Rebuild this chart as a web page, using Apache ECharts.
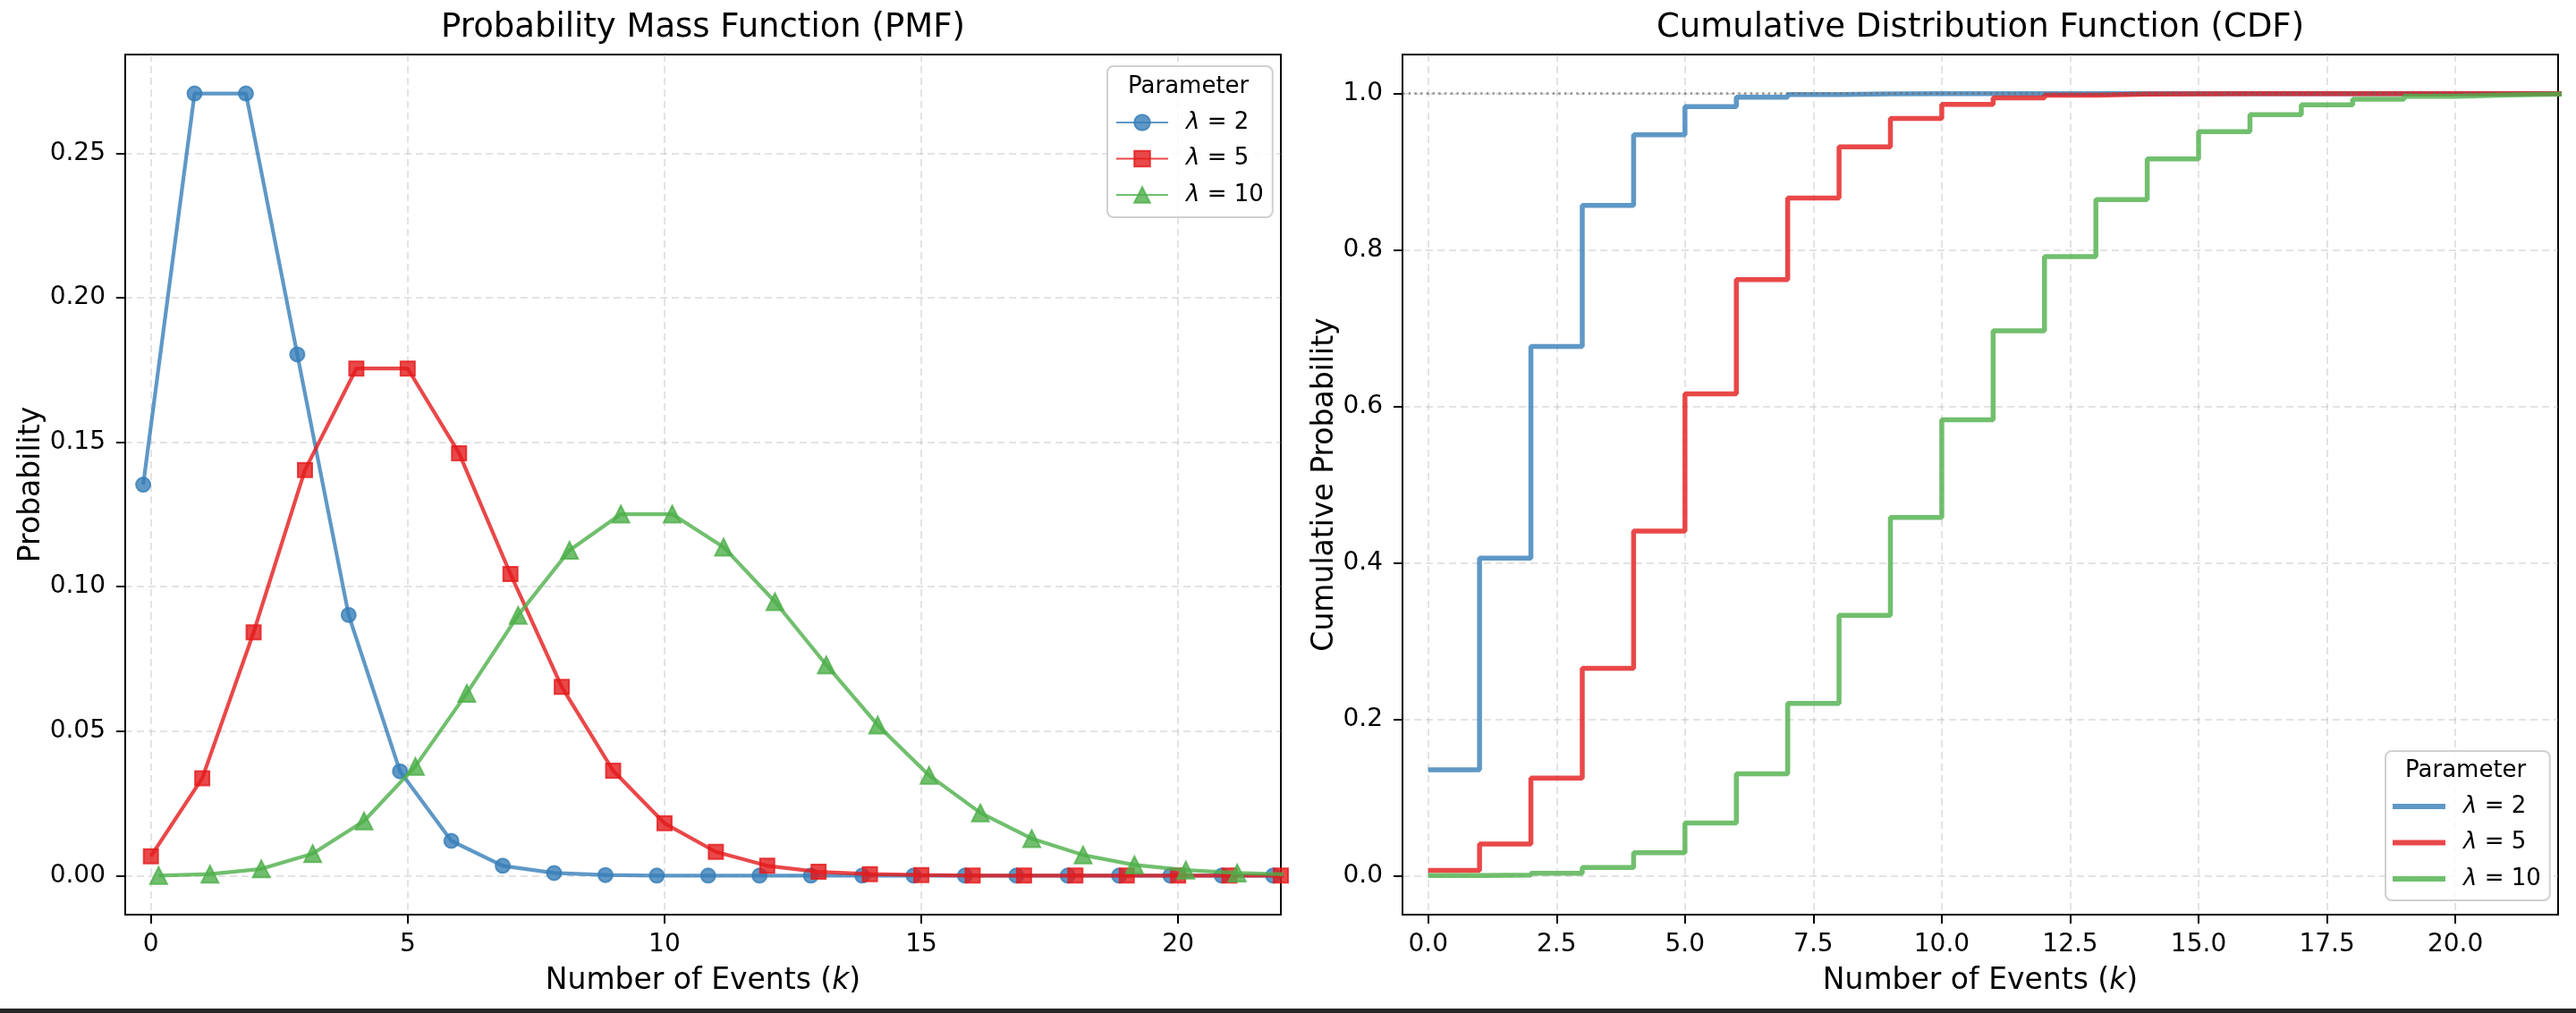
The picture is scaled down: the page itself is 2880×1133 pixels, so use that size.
<!DOCTYPE html>
<html>
<head>
<meta charset="utf-8">
<script src="https://cdn.jsdelivr.net/npm/echarts@6/dist/echarts.min.js"></script>
<style>
html,body{margin:0;padding:0;background:#fff;}
#c{width:2880px;height:1133px;}
</style>
</head>
<body>
<div id="c"></div>
<script>
// ---------- data ----------
const kValues = [0,1,2,3,4,5,6,7,8,9,10,11,12,13,14,15,16,17,18,19,20,21,22,23,24,25];
const lambdaLabels = ['2', '5', '10'];
const pmfLambda2 = [0.1353,0.2707,0.2707,0.1804,0.0902,0.0361,0.0120,0.0034,0.0009,0.0002,0.0000,0.0000,0.0000,0.0000,0.0000,0.0000,0.0000,0.0000,0.0000,0.0000,0.0000,0.0000,0.0000,0.0000,0.0000,0.0000];
const pmfLambda5 = [0.0067,0.0337,0.0842,0.1404,0.1755,0.1755,0.1462,0.1044,0.0653,0.0363,0.0181,0.0082,0.0034,0.0013,0.0005,0.0002,0.0000,0.0000,0.0000,0.0000,0.0000,0.0000,0.0000,0.0000,0.0000,0.0000];
const pmfLambda10 = [0.0000,0.0005,0.0023,0.0076,0.0189,0.0378,0.0631,0.0901,0.1126,0.1251,0.1251,0.1137,0.0948,0.0729,0.0521,0.0347,0.0217,0.0128,0.0071,0.0037,0.0019,0.0009,0.0004,0.0002,0.0001,0.0000];
const cdfLambda2 = [0.1353,0.4060,0.6767,0.8571,0.9473,0.9834,0.9955,0.9989,0.9998,1.0000,1.0000,1.0000,1.0000,1.0000,1.0000,1.0000,1.0000,1.0000,1.0000,1.0000,1.0000,1.0000,1.0000,1.0000,1.0000,1.0000];
const cdfLambda5 = [0.0067,0.0404,0.1247,0.2650,0.4405,0.6160,0.7622,0.8666,0.9319,0.9682,0.9863,0.9945,0.9980,0.9993,0.9998,0.9999,1.0000,1.0000,1.0000,1.0000,1.0000,1.0000,1.0000,1.0000,1.0000,1.0000];
const cdfLambda10 = [0.0000,0.0005,0.0028,0.0103,0.0293,0.0671,0.1301,0.2202,0.3328,0.4579,0.5830,0.6968,0.7916,0.8645,0.9165,0.9513,0.9730,0.9857,0.9928,0.9965,0.9984,0.9993,0.9997,0.9999,1.0000,1.0000];
const pmfXTicks = [0, 5, 10, 15, 20];
const pmfYTicks = [0, 0.05, 0.10, 0.15, 0.20, 0.25];
const cdfXTicks = [0, 2.5, 5, 7.5, 10, 12.5, 15, 17.5, 20];
const cdfYTicks = [0, 0.2, 0.4, 0.6, 0.8, 1.0];

// ---------- styling ----------
const FONT = 'DejaVu Sans';
const colors = ['rgba(55,126,184,0.8)', 'rgba(228,26,28,0.8)', 'rgba(77,175,74,0.8)'];
const symbols = ['circle', 'rect', 'triangle'];
const symbolSizes = [16, 16, 19];
const markerOffsets = [-0.15, 0, 0.15];
const pmfSets = [pmfLambda2, pmfLambda5, pmfLambda10];
const cdfSets = [cdfLambda2, cdfLambda5, cdfLambda10];

const gridDash = [8, 5];
function axisCommon(ticks, fmt, isX) {
  return {
    type: 'value',
    axisLine: {show: true, onZero: false, lineStyle: {color: '#000', width: 2}},
    axisTick: {show: true, length: 10, inside: false, customValues: ticks, lineStyle: {color: '#000', width: 2}},
    axisLabel: {customValues: ticks, formatter: fmt, color: '#000', fontFamily: FONT, fontSize: 28, margin: isX ? 20 : 22},
    splitLine: {show: true, lineStyle: {color: 'rgba(176,176,176,0.35)', width: 2, type: gridDash}},
    nameTextStyle: {color: '#000', fontFamily: FONT, fontSize: 33, rich: {i: {fontStyle: 'italic', fontFamily: FONT, fontSize: 33, color: '#000'}}},
    nameLocation: 'middle'
  };
}

const series = [];
pmfSets.forEach((arr, i) => {
  series.push({
    name: 'pmf' + lambdaLabels[i],
    type: 'line',
    xAxisIndex: 0, yAxisIndex: 0,
    data: kValues.map((k, j) => [k + markerOffsets[i], arr[j]]),
    symbol: symbols[i],
    symbolSize: symbolSizes[i],
    showAllSymbol: true,
    lineStyle: {color: colors[i], width: 4.2},
    itemStyle: {color: colors[i], borderColor: colors[i], borderWidth: 2},
    emphasis: {disabled: true},
    animation: false,
    z: 2 + i
  });
});
cdfSets.forEach((arr, i) => {
  const s = {
    name: 'cdf' + lambdaLabels[i],
    type: 'line',
    xAxisIndex: 1, yAxisIndex: 1,
    step: 'end',
    data: kValues.map((k, j) => [k, arr[j]]),
    symbol: 'none',
    lineStyle: {color: colors[i], width: 5.5},
    itemStyle: {color: colors[i]},
    emphasis: {disabled: true},
    animation: false,
    z: 3 + i
  };
  if (i === 0) {
    s.markLine = {
      silent: true, symbol: 'none', label: {show: false},
      lineStyle: {color: 'rgba(110,110,110,0.75)', width: 2.5, type: [2.5, 4.2]},
      data: [{yAxis: 1}],
      animation: false
    };
  }
  series.push(s);
});

function legendFmt(name) {
  return '{i|λ} = ' + name.replace(/^(pmf|cdf)/, '');
}
const legendText = {color: '#000', fontFamily: FONT, fontSize: 26, lineHeight: 28, padding: [0, 0, 0, 15],
  rich: {i: {fontStyle: 'italic', fontFamily: FONT, fontSize: 26, color: '#000'}}};

const option = {
  backgroundColor: '#fff',
  animation: false,
  title: [
    {text: 'Probability Mass Function (PMF)', left: 786, top: 13, textAlign: 'center', padding: 0,
     textStyle: {fontFamily: FONT, fontSize: 37, fontWeight: 'normal', color: '#000'}},
    {text: 'Cumulative Distribution Function (CDF)', left: 2214, top: 13, textAlign: 'center', padding: 0,
     textStyle: {fontFamily: FONT, fontSize: 37, fontWeight: 'normal', color: '#000'}}
  ],
  grid: [
    {left: 140, top: 61, width: 1292, height: 962, show: true, borderColor: '#000', borderWidth: 2, backgroundColor: 'transparent'},
    {left: 1568, top: 61, width: 1292, height: 962, show: true, borderColor: '#000', borderWidth: 2, backgroundColor: 'transparent'}
  ],
  xAxis: [
    Object.assign(axisCommon(pmfXTicks, v => String(Math.round(v)), true), {gridIndex: 0, min: -0.5, max: 22, name: 'Number of Events ({i|k})', nameGap: 58}),
    Object.assign(axisCommon(cdfXTicks, v => v.toFixed(1), true), {gridIndex: 1, min: -0.5, max: 22, name: 'Number of Events ({i|k})', nameGap: 58})
  ],
  yAxis: [
    Object.assign(axisCommon(pmfYTicks, v => v.toFixed(2), false), {gridIndex: 0, min: -0.01353, max: 0.2842, name: 'Probability', nameGap: 84}),
    Object.assign(axisCommon(cdfYTicks, v => v.toFixed(1), false), {gridIndex: 1, min: -0.05, max: 1.05, name: 'Cumulative Probability', nameGap: 70})
  ],
  legend: [
    {
      orient: 'vertical', left: 1238, top: 74,
      data: lambdaLabels.map(l => 'pmf' + l),
      formatter: legendFmt,
      itemWidth: 58, itemHeight: 22, itemGap: 12.5,
      padding: [49, 10, 11, 9],
      backgroundColor: 'rgba(255,255,255,0.85)', borderColor: '#d0d0d0', borderWidth: 2, borderRadius: 7,
      selectedMode: false,
      textStyle: legendText
    },
    {
      orient: 'vertical', left: 2667, top: 840,
      data: lambdaLabels.map(l => ({name: 'cdf' + l, icon: 'rect'})),
      formatter: legendFmt,
      itemWidth: 59, itemHeight: 6, itemGap: 12.5,
      padding: [48, 10, 10, 8],
      backgroundColor: 'rgba(255,255,255,0.85)', borderColor: '#d0d0d0', borderWidth: 2, borderRadius: 7,
      selectedMode: false,
      textStyle: legendText
    }
  ],
  graphic: [
    {type: 'text', left: 1329 - 68, top: 84, z: 100, style: {text: 'Parameter', fontFamily: FONT, fontSize: 26, fill: '#000'}},
    {type: 'text', left: 2757 - 68, top: 849, z: 100, style: {text: 'Parameter', fontFamily: FONT, fontSize: 26, fill: '#000'}},
    {type: 'rect', left: 0, top: 1128, z: 100, shape: {width: 2880, height: 5}, style: {fill: '#262626'}}
  ],
  series: series
};

const chart = echarts.init(document.getElementById('c'), null, {renderer: 'canvas'});
chart.setOption(option);
</script>
</body>
</html>
